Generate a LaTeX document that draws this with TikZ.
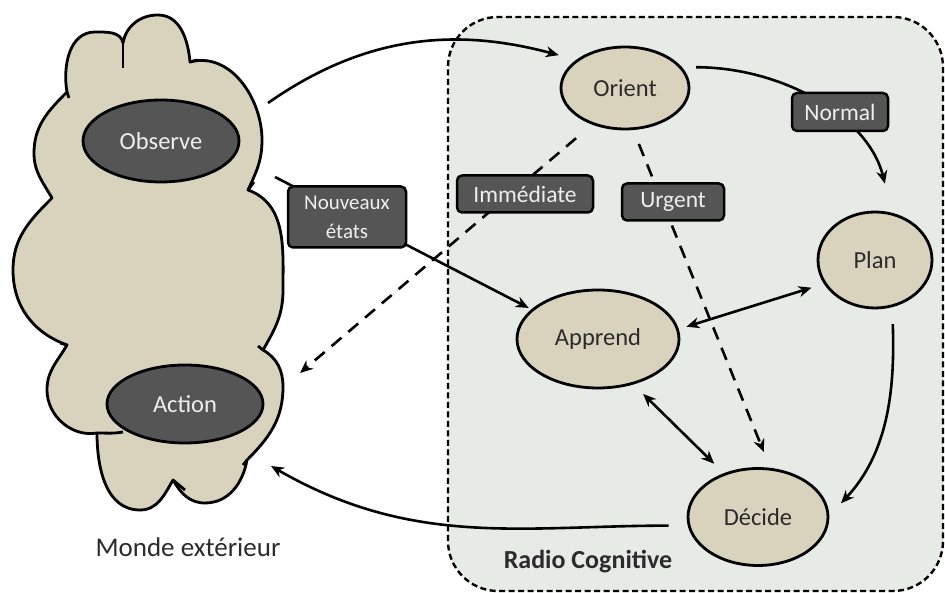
\documentclass[tikz,border=0pt]{standalone}
\usepackage{fontspec}
\setmainfont{Carlito}
\usetikzlibrary{shapes.geometric,arrows.meta}
\definecolor{sable}{HTML}{D9D3BE}
\definecolor{ardoise}{HTML}{555555}
\definecolor{menthe}{HTML}{E6EBE5}
\definecolor{encre}{HTML}{2B2B2B}
\definecolor{craie}{HTML}{EEEEEE}
\tikzset{
  etat/.style={ellipse, draw=black, line width=2.8pt, fill=sable, text=encre,
    font=\fontsize{24.5}{28}\selectfont, inner sep=0pt},
  monde/.style={ellipse, draw=black, line width=2.8pt, fill=ardoise, text=craie,
    font=\fontsize{24.5}{28}\selectfont, inner sep=0pt},
  etiquette/.style={rectangle, rounded corners=5pt, draw=black, line width=2.5pt,
    fill=ardoise, text=craie, font=\fontsize{23.5}{28}\selectfont,
    minimum height=37pt, inner sep=0pt, align=center},
  fleche/.style={line width=2.6pt, -{Stealth[length=13pt,width=11pt]}},
  pointille/.style={fleche, dash pattern=on 13pt off 9pt},
  bifleche/.style={line width=2.6pt, {Stealth[length=13pt,width=11pt]}-{Stealth[length=13pt,width=11pt]}}
}
\begin{document}
\begin{tikzpicture}[x=1pt,y=1pt,line join=round]
\useasboundingbox (0,0) rectangle (945,593);
% radio cognitive
\draw[fill=menthe, line width=2.4pt, dash pattern=on 6pt off 3.5pt, rounded corners=50pt] (448,2) rectangle (943,576);
\node[font=\fontsize{26}{30}\selectfont\bfseries, text=encre] (radio) at (588,31) {Radio Cognitive};
% monde exterieur
\draw[fill=sable, line width=2.8pt] (67,501)
  to[out=100,in=180] (95,561) to[out=0,in=100] (123,550)
  to[out=80,in=180] (158,578) to[out=0,in=95] (190,531)
  to[out=15,in=90] (262,453) to[out=-90,in=65] (248,403)
  to[out=-20,in=90] (283,303) to[out=-90,in=60] (263,243)
  to[out=-30,in=90] (283,206) to[out=-90,in=45] (247,133)
  to[out=-100,in=0] (205,90) to[out=180,in=-60] (173,113)
  to[out=-120,in=0] (140,83) to[out=180,in=-90] (97,160)
  to[out=190,in=-90] (47,203) to[out=90,in=-120] (67,248)
  to[out=160,in=-90] (13,323) to[out=90,in=-135] (52,395)
  to[out=120,in=-90] (34,440) to[out=90,in=-135] (67,501) -- cycle;
\draw[line width=2.8pt] (123,550) -- (123,525);
\draw[line width=2.8pt] (190,531) -- (197,533);
\draw[line width=2.8pt] (67,501) -- (69,495);
\draw[line width=2.8pt] (248,403) -- (254,411);
\draw[line width=2.8pt] (263,243) -- (258,247);
\draw[line width=2.8pt] (247,133) -- (243,128);
\draw[line width=2.8pt] (173,113) -- (185,103);
\draw[line width=2.8pt] (97,160) to[out=0,in=190] (123,161);
\draw[line width=2.8pt] (67,248) -- (60,250);
\node[text=encre, font=\fontsize{27}{30}\selectfont] (monde) at (188,46) {Monde extérieur};
\coordinate (nuageA) at (268,490);
\coordinate (nuageB) at (275,416);
\coordinate (nuageC) at (300,220);
\coordinate (nuageD) at (271,127);
% etats
\node[monde, minimum width=156pt, minimum height=82pt] (observe) at (161,452) {Observe};
\node[monde, minimum width=156pt, minimum height=78pt] (action) at (185,189) {Action};
\node[etat, minimum width=128pt, minimum height=82pt] (orient) at (625,505) {Orient};
\node[etat, minimum width=114pt, minimum height=96pt] (plan) at (875,333) {Plan};
\node[etat, minimum width=162pt, minimum height=98pt] (apprend) at (598,254) {Apprend};
\node[etat, minimum width=140pt, minimum height=97pt] (decide) at (758,76) {Décide};
% connecteurs
\draw[fleche, shorten >=18pt] (nuageA) to[out=35,in=165] (orient.150);
\draw[fleche, shorten <=14pt, shorten >=30pt] (orient.20) to[out=0,in=104] (plan.70);
\draw[pointille, shorten <=21pt] (orient.228) -- (nuageC);
\draw[pointille, shorten <=15pt, shorten >=17pt] (orient.281) -- (decide.76);
\draw[fleche, shorten >=3pt] (nuageB) -- (apprend.156);
\draw[bifleche, shorten <=8pt, shorten >=13pt] (apprend.7) -- (plan.205);
\draw[bifleche, shorten <=13.5pt, shorten >=13.5pt] (apprend.308) -- (decide.128);
\draw[fleche, shorten <=17pt, shorten >=17pt] (plan.-70) to[out=-88,in=47] (decide.1);
\draw[fleche, shorten <=19pt] (decide.187) to[out=180,in=-30] (nuageD);
% etiquettes
\node[etiquette, minimum width=96pt, minimum height=38pt] (normal) at (840,481) {Normal};
\node[etiquette, minimum width=136pt] (immediate) at (525,399) {Immédiate};
\node[etiquette, minimum width=102pt] (urgent) at (673,391) {Urgent};
\node[etiquette, minimum width=118pt, minimum height=61pt, font=\fontsize{21}{29}\selectfont] (nouveaux) at (347,376) {Nouveaux\\états};
\end{tikzpicture}
\end{document}
